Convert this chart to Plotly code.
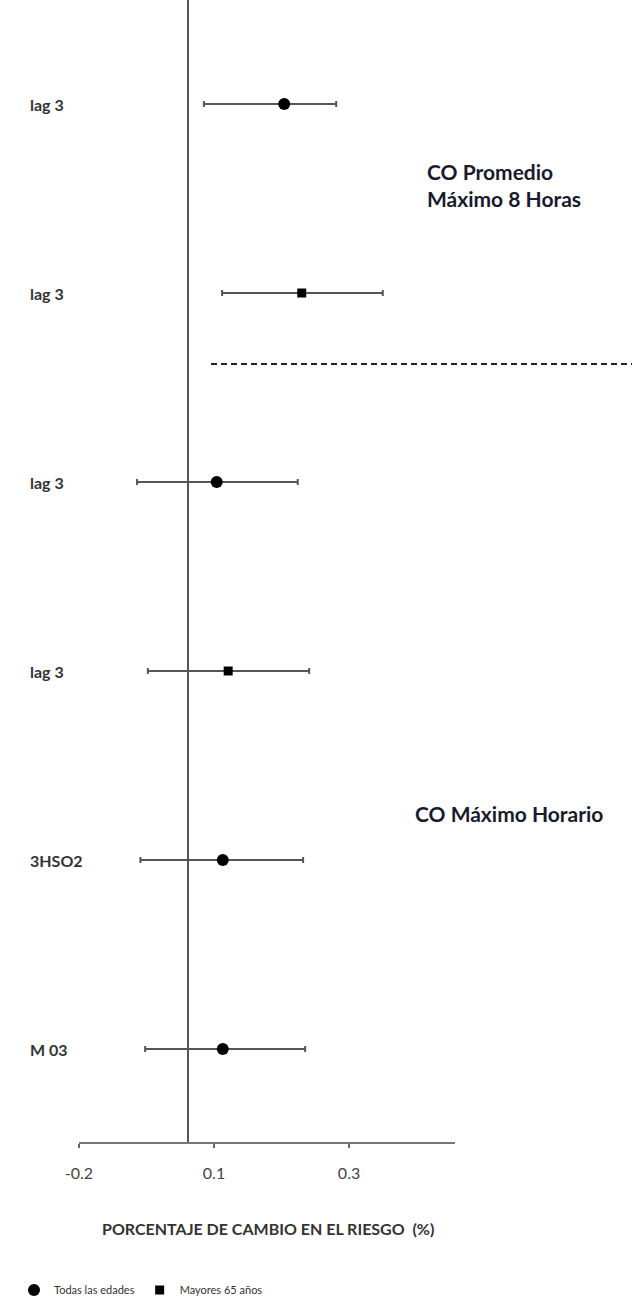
import plotly.graph_objects as go

# ---- data ----
row_labels = ["lag 3", "lag 3", "lag 3", "lag 3", "3HSO2", "M 03"]
row_group = ["Todas las edades", "Mayores 65 años", "Todas las edades",
             "Mayores 65 años", "Todas las edades", "Todas las edades"]
estimate = [0.154, 0.180, 0.054, 0.071, 0.063, 0.063]
ci_low = [0.035, 0.062, -0.064, -0.048, -0.059, -0.052]
ci_high = [0.231, 0.300, 0.174, 0.191, 0.182, 0.185]

tick_vals = [-0.15, 0.05, 0.25]
tick_text = ["-0.2", "0.1", "0.3"]
x_range = [-0.15, 0.407]
ref_x = 0.0115
separator_y = 1.376

section_titles = ["CO Promedio<br>Máximo 8 Horas", "CO Máximo Horario"]
axis_title = "PORCENTAJE DE CAMBIO EN EL RIESGO  (%)"

symbols = {"Todas las edades": ("circle", 12), "Mayores 65 años": ("square", 9)}

FONT = "Lato"
W, H = 638, 1311
ML, MR, MT, MB = 79, 183, 0, 169
plot_w = W - ML - MR
plot_h = H - MT - MB


def px_x(p):
    return (p - ML) / plot_w


def px_y(p):
    return 1 - (p - MT) / plot_h


fig = go.Figure()
for grp, (sym, size) in symbols.items():
    idx = [i for i, g in enumerate(row_group) if g == grp]
    fig.add_trace(go.Scatter(
        x=[estimate[i] for i in idx],
        y=[i for i in idx],
        mode="markers",
        name=grp,
        marker=dict(symbol=sym, size=size, color="black"),
        error_x=dict(type="data", symmetric=False,
                     array=[ci_high[i] - estimate[i] for i in idx],
                     arrayminus=[estimate[i] - ci_low[i] for i in idx],
                     color="#555555", thickness=2, width=3),
        cliponaxis=False,
    ))

# row labels
for i, lab in enumerate(row_labels):
    fig.add_annotation(x=px_x(28), xref="paper", y=i, yref="y",
                       text="<b>%s</b>" % lab, showarrow=False,
                       xanchor="left", yanchor="middle",
                       font=dict(family=FONT, size=16, color="#333333"))

# vertical reference line
fig.add_shape(type="line", xref="x", yref="paper", x0=ref_x, x1=ref_x, y0=0, y1=1,
              line=dict(color="#555555", width=2))
# dashed separator
fig.add_shape(type="line", xref="paper", yref="y",
              x0=px_x(211), x1=px_x(632),
              y0=separator_y, y1=separator_y,
              line=dict(color="#222222", width=2, dash="6px,4px"))

# section titles
fig.add_annotation(x=px_x(425), xref="paper", y=px_y(185), yref="paper",
                   text="<b>%s</b>" % section_titles[0], showarrow=False,
                   xanchor="left", yanchor="middle", align="left",
                   font=dict(family=FONT, size=21, color="#1a1a2e"))
fig.add_annotation(x=px_x(413), xref="paper", y=px_y(813), yref="paper",
                   text="<b>%s</b>" % section_titles[1], showarrow=False,
                   xanchor="left", yanchor="middle",
                   font=dict(family=FONT, size=21, color="#1a1a2e"))

# axis title
fig.add_annotation(x=px_x(268), xref="paper", y=px_y(1228), yref="paper",
                   text="<b>%s</b>" % axis_title, showarrow=False,
                   xanchor="center", yanchor="middle",
                   font=dict(family=FONT, size=16, color="#333333"))

fig.update_xaxes(range=x_range, tickvals=tick_vals, ticktext=tick_text,
                 showgrid=False, zeroline=False, showline=True, linecolor="#777777",
                 linewidth=2, ticks="outside", ticklen=4, tickcolor="#666666", tickwidth=2,
                 ticklabelstandoff=12,
                 tickfont=dict(family=FONT, size=16, color="#444444"))
fig.update_yaxes(range=[(plot_h - 104) / 189, -104 / 189], showgrid=False, zeroline=False,
                 showline=False, showticklabels=False, ticks="")

fig.update_layout(
    width=W, height=H,
    margin=dict(l=ML, r=MR, t=MT, b=MB),
    plot_bgcolor="white", paper_bgcolor="white",
    showlegend=True,
    legend=dict(orientation="h", x=px_x(14), xanchor="left",
                y=px_y(1290), yanchor="middle",
                font=dict(family=FONT, size=11, color="#333333"),
                itemwidth=30, bgcolor="rgba(0,0,0,0)"),
)

fig.write_html("out.html", config={"displayModeBar": False},
               post_script="document.body.style.margin='0';")
